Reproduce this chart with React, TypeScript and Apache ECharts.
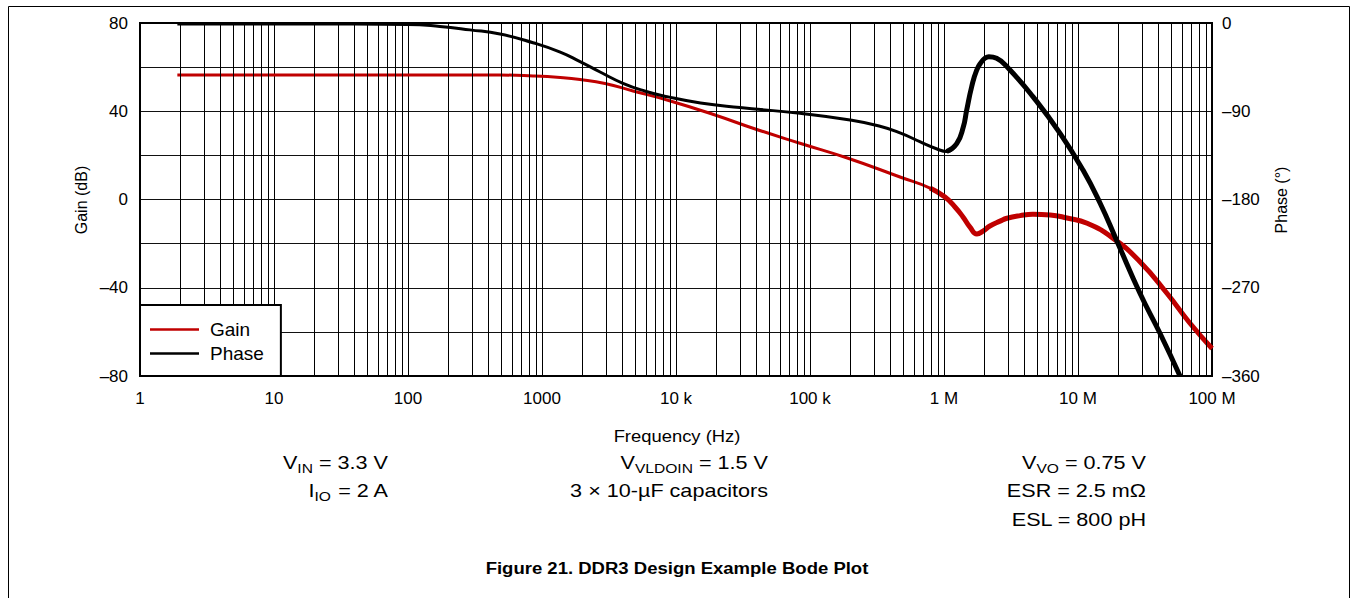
import React, { useEffect, useRef } from "react";
import * as echarts from "echarts";

// ---- data ----
const FREQ_GAIN = [1.9, 9.3, 87, 486, 857, 1368, 1923, 2953, 4777, 8570, 19540, 37580, 84100, 192300, 469500, 786000, 1.017e6, 1.208e6, 1.386e6, 1.563e6, 1.76e6, 1.955e6, 2.2e6, 2.62e6, 2.95e6, 3.7e6, 4.61e6, 6.2e6, 8.28e6, 1.17e7, 1.82e7, 2.9e7, 4.61e7, 6.85e7, 1.0e8];
const GAIN = [56.4, 56.4, 56.4, 56.4, 56.0, 55.3, 54.4, 52.6, 49.2, 45.1, 38.3, 32.3, 25.5, 18.7, 10.2, 5.2, 1.1, -3.4, -7.9, -12.5, -15.6, -14.3, -12.0, -9.8, -8.5, -7.3, -6.7, -7.0, -8.4, -10.8, -17.5, -28.2, -42.5, -56.1, -67.5];

const FREQ_PHASE = [1.9, 15.6, 99.7, 173, 290, 486, 857, 1368, 1923, 2714, 4020, 5825, 8570, 15250, 30000, 84100, 199000, 328000, 469500, 660000, 887000, 1.047e6, 1.244e6, 1.393e6, 1.476e6, 1.609e6, 1.754e6, 1.91e6, 2.02e6, 2.16e6, 2.47e6, 3.11e6, 4.61e6, 7.35e6, 1.09e7, 1.46e7, 1.95e7, 2.9e7, 4.09e7, 5.77e7];
const PHASE = [-1, -1, -1.5, -3.5, -7, -11.2, -20.1, -29.6, -39.4, -50, -61.5, -69.3, -75.1, -81.6, -86.2, -92.1, -98.9, -105, -112, -121, -128.5, -131, -123, -106, -89, -65, -48, -39.4, -36, -34.4, -36, -47.9, -75.1, -112.5, -150, -183.6, -222.3, -275.6, -316.4, -360];

const X_TICK_LABELS = ["1", "10", "100", "1000", "10 k", "100 k", "1 M", "10 M", "100 M"];
const GAIN_TICKS = [80, 40, 0, -40, -80];
const PHASE_TICKS = [0, -90, -180, -270, -360];

const FONT = "'Liberation Sans', Arial, Helvetica, sans-serif";

const dash = (v: number) => (v < 0 ? "\u2013" + Math.abs(v) : String(v));

export default function App() {
  const ref = useRef<HTMLDivElement>(null);
  useEffect(() => {
    if (!ref.current) return;
    const chart = echarts.init(ref.current, undefined, { renderer: "svg" });

    const gainData = FREQ_GAIN.map((f, i) => [f, GAIN[i]]);
    const phaseData = FREQ_PHASE.map((f, i) => [f, PHASE[i]]);
    const gainHF = gainData.filter((d) => d[0] >= 7.8e5);
    const phaseHF = phaseData.filter((d) => d[0] >= 1.0e6);

    const minorLines: any[] = [];
    for (let d = 0; d < 8; d++) {
      for (let m = 2; m <= 9; m++) minorLines.push({ xAxis: m * Math.pow(10, d) });
    }

    const sub = { fontSize: 13, fontFamily: FONT, color: "#000", verticalAlign: "bottom", lineHeight: 13 };
    const main = { fontSize: 18, fontFamily: FONT, color: "#000", lineHeight: 24 };
    const annot = (x: number, y: number, text: string) => ({
      type: "text",
      x,
      y,
      scaleX: 1.2,
      style: {
        text,
        align: "right",
        verticalAlign: "middle",
        fontSize: 18,
        fontFamily: FONT,
        fill: "#000",
        rich: { m: main, s: sub },
      },
    });

    const lineSeries = (name: string, data: any[], axis: number, color: string, width: number, z: number) => ({
      name,
      type: "line",
      yAxisIndex: axis,
      data,
      smooth: 0.5,
      showSymbol: false,
      symbol: "none",
      color,
      lineStyle: { color, width },
      z,
    });

    chart.setOption({
      animation: false,
      backgroundColor: "#fff",
      grid: {
        left: 140,
        top: 23,
        width: 1072,
        height: 353,
        show: true,
        borderColor: "#000",
        borderWidth: 2,
        backgroundColor: "transparent",
        z: 3,
      },
      legend: {
        data: ["Gain", "Phase"],
        orient: "vertical",
        left: 140,
        top: 305,
        icon: "rect",
        itemWidth: 49,
        itemHeight: 2.5,
        itemGap: 5,
        padding: [15, 17, 13, 10],
        backgroundColor: "#fff",
        borderColor: "#000",
        borderWidth: 2,
        textStyle: { fontSize: 19, fontFamily: FONT, color: "#000", padding: [0, 0, 0, 6] },
        z: 10,
      },
      xAxis: {
        type: "log",
        logBase: 10,
        min: 1,
        max: 1e8,
        splitNumber: 8,
        axisLine: { show: false },
        axisTick: { show: false },
        axisLabel: {
          margin: 14,
          fontSize: 17,
          fontFamily: FONT,
          color: "#000",
          formatter: (v: number) => X_TICK_LABELS[Math.round(Math.log10(v))] ?? "",
        },
        splitLine: { show: true, lineStyle: { color: "#000", width: 1 } },
      },
      yAxis: [
        {
          type: "value",
          min: -80,
          max: 80,
          interval: 20,
          axisLine: { show: false },
          axisTick: { show: false },
          axisLabel: {
            margin: 12,
            fontSize: 17,
            fontFamily: FONT,
            color: "#000",
            formatter: (v: number) => (GAIN_TICKS.includes(v) ? dash(v) : ""),
          },
          splitLine: { show: true, lineStyle: { color: "#111", width: 1 } },
        },
        {
          type: "value",
          min: -360,
          max: 0,
          interval: 90,
          axisLine: { show: false },
          axisTick: { show: false },
          axisLabel: {
            margin: 10,
            fontSize: 17,
            fontFamily: FONT,
            color: "#000",
            formatter: (v: number) => (PHASE_TICKS.includes(v) ? dash(v) : ""),
          },
          splitLine: { show: false },
        },
      ],
      series: [
        {
          name: "minor",
          type: "line",
          data: [[1, -80]],
          showSymbol: false,
          symbol: "none",
          lineStyle: { opacity: 0 },
          silent: true,
          z: 1,
          markLine: {
            silent: true,
            symbol: "none",
            label: { show: false },
            lineStyle: { color: "#000", width: 1, type: "solid" },
            data: minorLines,
            animation: false,
          },
        },
        lineSeries("Gain", gainData, 0, "#c00000", 3, 4),
        lineSeries("GainHF", gainHF, 0, "#c00000", 5, 4),
        lineSeries("Phase", phaseData, 1, "#000", 3, 5),
        lineSeries("PhaseHF", phaseHF, 1, "#000", 5, 5),
      ],
      graphic: [
        {
          type: "rect",
          shape: { x: 8.5, y: 6.5, width: 1341, height: 700 },
          style: { fill: "none", stroke: "#000", lineWidth: 1 },
          silent: true,
        },
        {
          type: "text",
          x: 81,
          y: 200,
          rotation: Math.PI / 2,
          style: { text: "Gain (dB)", align: "center", verticalAlign: "middle", fontSize: 16, fontFamily: FONT, fill: "#000" },
        },
        {
          type: "text",
          x: 1281,
          y: 200,
          rotation: Math.PI / 2,
          style: { text: "Phase (\u00B0)", align: "center", verticalAlign: "middle", fontSize: 16, fontFamily: FONT, fill: "#000" },
        },
        {
          type: "text",
          x: 677,
          y: 436,
          scaleX: 1.15,
          style: { text: "Frequency (Hz)", align: "center", verticalAlign: "middle", fontSize: 16, fontFamily: FONT, fill: "#000" },
        },
        annot(388, 463, "{m|V}{s|IN}{m| = 3.3 V}"),
        annot(388, 491, "{m|I}{s|IO}{m| = 2 A}"),
        annot(768, 463, "{m|V}{s|VLDOIN}{m| = 1.5 V}"),
        annot(768, 491, "{m|3 \u00D7 10-\u00B5F capacitors}"),
        annot(1146, 463, "{m|V}{s|VO}{m| = 0.75 V}"),
        annot(1146, 491, "{m|ESR = 2.5 m\u03A9}"),
        annot(1146, 520, "{m|ESL = 800 pH}"),
        {
          type: "text",
          x: 677,
          y: 568,
          scaleX: 1.09,
          style: {
            text: "Figure 21. DDR3 Design Example Bode Plot",
            align: "center",
            verticalAlign: "middle",
            fontSize: 17,
            fontWeight: "bold",
            fontFamily: FONT,
            fill: "#000",
          },
        },
      ],
    });
    return () => chart.dispose();
  }, []);
  return (
    <div
      ref={ref}
      style={{ position: "absolute", left: 0, top: 0, width: 1353, height: 598 }}
    />
  );
}
